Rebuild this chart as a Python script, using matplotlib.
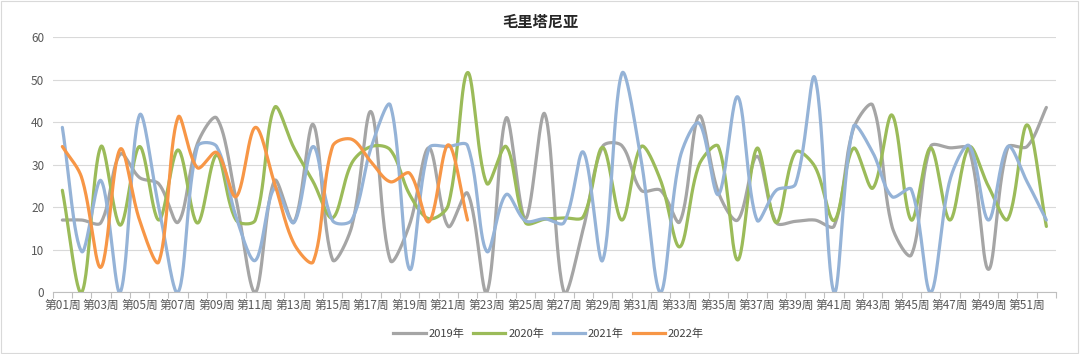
import numpy as np
import matplotlib
matplotlib.use("Agg")
import matplotlib.pyplot as plt
from matplotlib.lines import Line2D
from matplotlib.patches import Rectangle

plt.rcParams['font.family'] = ['Noto Sans CJK SC', 'DejaVu Sans']

# weekly values
weeks = [f"第{i:02d}周" for i in range(1, 53)]

y2019 = [17, 17, 16.4, 32.5, 27, 25.5, 16.5, 35, 41, 22, 0, 26.3, 16.5, 39.5, 7.7, 15.5,
         42.5, 7.5, 16, 34, 15.5, 23.3, 0, 41, 17.3, 42, 0, 15, 34.3, 34.5, 24, 24,
         16.6, 41.5, 23.5, 17, 32, 16.4, 16.7, 17, 15.6, 38.5, 44, 15.5, 8.8, 34.3,
         34, 33.6, 5.4, 34.1, 34.3, 43.5]
y2020 = [24, 0, 34.3, 15.8, 34.3, 17, 33.5, 16.3, 32.3, 17, 17, 43.5, 34, 26, 17.5, 30.4,
         34.3, 33.5, 23, 17.3, 20.5, 51.7, 25.6, 34.3, 16.4, 17.2, 17.5, 17.8, 34.1, 17,
         34.3, 26.4, 10.7, 30, 34.3, 7.6, 33.9, 16.4, 33, 29.6, 16.9, 33.9, 24.5, 41.7,
         17, 34, 17, 34.2, 24.9, 17.2, 39.4, 15.5]
y2021 = [38.8, 9.6, 26.3, 0, 41.7, 20, 0, 34.3, 34.3, 17.8, 7.5, 24.5, 16.4, 34.3, 16.9,
         17, 34, 44, 5.4, 33.9, 34.3, 34.5, 9.6, 23, 16.8, 17.3, 16.4, 33, 7.5, 51.5, 31,
         0, 31.5, 39.8, 23, 46, 17, 24, 25.5, 50.5, 0, 39, 32.9, 22.5, 24.2, 0, 26.4,
         34.5, 17, 34.3, 26, 17]
y2022 = [34.3, 27, 5.9, 33.7, 17, 7.2, 41.2, 29.3, 32.9, 22.5, 38.8, 25.6, 11.5, 7.2,
         34.3, 36, 30.7, 26, 28, 16.6, 34.7, 17]

series_names = ["2019年", "2020年", "2021年", "2022年"]
colors = ["#A5A5A5", "#9BBB59", "#95B3D7", "#F79646"]

# pixel size of one x step / one y unit, used to weight the smoothing like Excel
PX_X, PX_Y = 19.3, 4.25


def smooth(x, y, steps=30, tension=1 / 3):
    """Excel-like smoothed line: Bezier through each point, tangents weighted by chord length"""
    p = np.column_stack([np.asarray(x, float) * PX_X, np.asarray(y, float) * PX_Y])
    n = len(p)
    chord = np.hypot(*np.diff(p, axis=0).T)
    c_out = np.zeros_like(p)
    c_in = np.zeros_like(p)
    for i in range(n):
        prev_p = p[i - 1] if i > 0 else p[i]
        next_p = p[i + 1] if i < n - 1 else p[i]
        d0 = chord[i - 1] if i > 0 else 0.0
        d1 = chord[i] if i < n - 1 else 0.0
        tan = next_p - prev_p
        tot = d0 + d1 if d0 + d1 > 0 else 1.0
        c_out[i] = p[i] + tan * tension * d1 / tot
        c_in[i] = p[i] - tan * tension * d0 / tot
    t = np.linspace(0, 1, steps)[:, None]
    pts = []
    for i in range(n - 1):
        b = ((1 - t) ** 3 * p[i] + 3 * (1 - t) ** 2 * t * c_out[i]
             + 3 * (1 - t) * t ** 2 * c_in[i + 1] + t ** 3 * p[i + 1])
        pts.append(b)
    pts = np.concatenate(pts)
    return pts[:, 0] / PX_X, pts[:, 1] / PX_Y


def main():
    fig = plt.figure(figsize=(10.8, 3.54), dpi=100)
    ax = fig.add_axes([0.0488, 0.1743, 0.9290, 0.7203])

    for vals, name, col in zip([y2019, y2020, y2021, y2022], series_names, colors):
        x = np.arange(len(vals))
        sx, sy = smooth(x, vals)
        ax.plot(sx, sy, color=col, lw=2.3, solid_capstyle='round', label=name)

    ax.set_xlim(-0.5, 51.5)
    ax.set_ylim(0, 60)
    ax.set_yticks(range(0, 61, 10))
    ax.set_xticks(np.arange(0, 52, 2))
    ax.set_xticklabels(weeks[::2])
    ax.set_xticks(np.arange(-0.5, 52, 1), minor=True)
    ax.tick_params(axis='x', which='major', length=0, pad=5, labelsize=8.5, colors='#595959')
    ax.tick_params(axis='x', which='minor', length=4, color='#BFBFBF', width=0.8)
    ax.tick_params(axis='y', length=0, pad=6, labelsize=8.5, colors='#595959')

    ax.grid(axis='y', color='#D9D9D9', lw=0.8)
    ax.set_axisbelow(True)
    for side in ['top', 'right', 'left']:
        ax.spines[side].set_visible(False)
    ax.spines['bottom'].set_color('#BFBFBF')

    fig.text(0.5, 0.94, "毛里塔尼亚", ha='center', va='center', fontsize=11,
             fontweight='bold', color='#262626')

    handles = [Line2D([], [], color=c, lw=2.3) for c in colors]
    fig.legend(handles, series_names, loc='center', bbox_to_anchor=(0.508, 0.058), ncol=4,
               frameon=False, fontsize=8, handlelength=2.9, columnspacing=0.8,
               handletextpad=0.25, labelcolor='#404040')

    fig.patches.append(Rectangle((0.001, 0.002), 0.997, 0.995, transform=fig.transFigure,
                                 fill=False, edgecolor='#D9D9D9', lw=0.8))

    fig.savefig("out.png", dpi=100)


if __name__ == "__main__":
    main()
